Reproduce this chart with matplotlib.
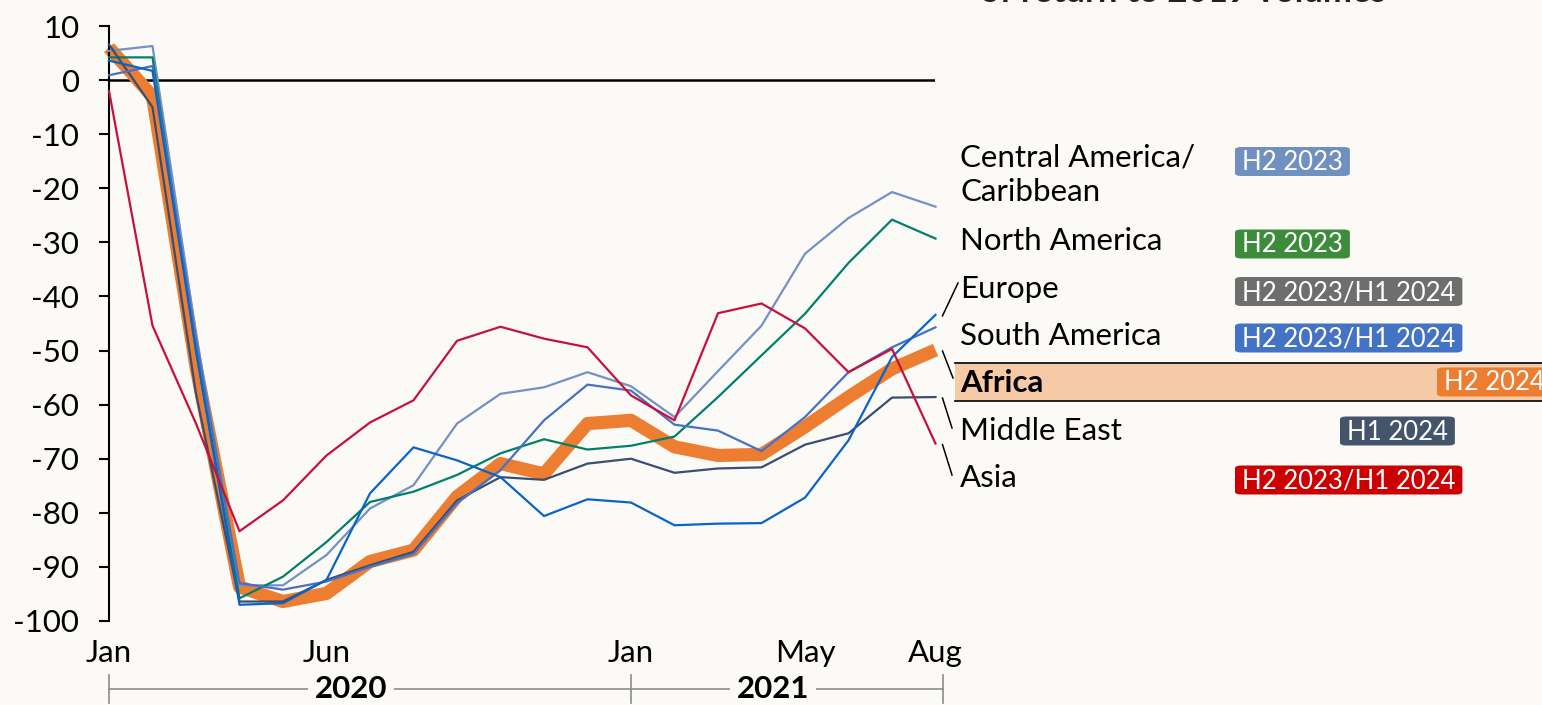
import matplotlib
matplotlib.use("Agg")
import numpy as np
import pandas as pd
import matplotlib.pyplot as plt
from matplotlib.patches import FancyBboxPatch, Rectangle
from matplotlib.lines import Line2D
import matplotlib.transforms as mtransforms

# ---------------- data ----------------
months = pd.date_range("2020-01-01", periods=20, freq="MS")
tick_idx = [0, 5, 12, 16, 19]
tick_labels = ["Jan", "Jun", "Jan", "May", "Aug"]
years = ["2020", "2021"]

central_america = [5.4, 6.3, -47, -93.4, -93.4, -87.8, -79.2, -74.9, -63.5, -58.0,
                   -56.8, -54.0, -56.6, -62.3, -53.8, -45.4, -32.1, -25.5, -20.7, -23.4]
north_america = [4.2, 4.2, -50, -95.8, -91.8, -85.4, -78.0, -76.1, -73.0, -69.0,
                 -66.4, -68.3, -67.6, -65.9, -58.6, -50.9, -43.2, -33.8, -25.8, -29.3]
europe = [3.6, 1.7, -50, -97.0, -96.7, -92.4, -76.4, -67.9, -70.3, -73.4,
          -80.6, -77.5, -78.1, -82.3, -82.0, -81.9, -77.2, -66.6, -51.2, -43.4]
south_america = [0.9, 2.6, -48, -93.0, -94.2, -92.7, -90.0, -87.6, -78.2, -72.1,
                 -62.9, -56.3, -57.4, -63.7, -64.8, -68.6, -62.3, -54.0, -49.4, -45.7]
africa = [6.0, -3.0, -53, -93.7, -96.4, -94.9, -89.0, -86.9, -77.0, -70.9,
          -72.8, -63.5, -62.9, -67.8, -69.4, -69.2, -64.1, -58.6, -53.4, -49.9]
middle_east = [6.6, -5.0, -58, -96.4, -96.4, -92.4, -89.7, -87.2, -77.7, -73.4,
               -73.9, -70.9, -70.0, -72.6, -71.8, -71.6, -67.4, -65.3, -58.7, -58.6]
asia = [-2.0, -45.4, -63.5, -83.4, -77.7, -69.4, -63.3, -59.2, -48.2, -45.6,
        -47.8, -49.4, -58.3, -62.9, -43.1, -41.3, -45.9, -54.0, -49.7, -67.2]

regions = ["Central America/\nCaribbean", "North America", "Europe", "South America",
           "Africa", "Middle East", "Asia"]
recovery = ["H2 2023", "H2 2023", "H2 2023/H1 2024", "H2 2023/H1 2024",
            "H2 2024", "H1 2024", "H2 2023/H1 2024"]

# ---------------- style ----------------
BG = "#FBFAF6"
line_colors = {
    "Central America/\nCaribbean": "#7391C4",
    "North America": "#00806B",
    "Europe": "#0A64C8",
    "South America": "#4472C4",
    "Africa": "#ED7D31",
    "Middle East": "#3B4E6E",
    "Asia": "#C8103E",
}
tag_colors = ["#7090C0", "#3C8C3C", "#6E6E6E", "#4472C4", "#ED7D31", "#44546A", "#CC0000"]

plt.rcParams["font.family"] = ["Lato", "DejaVu Sans"]

W, H = 1542, 705
fig = plt.figure(figsize=(W / 100, H / 100), dpi=100)
fig.patch.set_facecolor(BG)


def fx(x):
    return x / W


def fy(y):
    return 1 - y / H


ax = fig.add_axes([fx(109), fy(621), (935.5 - 109) / W, (621 - 26) / H])
ax.set_facecolor("none")

x = np.arange(len(months))
series = {
    "Central America/\nCaribbean": central_america,
    "North America": north_america,
    "Europe": europe,
    "South America": south_america,
    "Africa": africa,
    "Middle East": middle_east,
    "Asia": asia,
}

ax.axhline(0, color="black", lw=1.8, zorder=1)
ax.plot(x, africa, color=line_colors["Africa"], lw=9.5, zorder=2, clip_on=False,
        solid_joinstyle="round", solid_capstyle="butt")
for name in ["Central America/\nCaribbean", "North America", "Middle East",
             "South America", "Europe", "Asia"]:
    ax.plot(x, series[name], color=line_colors[name], lw=1.6, zorder=3, clip_on=False)

ax.set_xlim(0, 19)
ax.set_ylim(-100, 10)
ax.set_yticks(np.arange(-100, 11, 10))
ax.set_yticklabels([str(v) for v in range(-100, 11, 10)])
ax.set_xticks(tick_idx)
ax.set_xticklabels(tick_labels)
for s in ["top", "right", "bottom"]:
    ax.spines[s].set_visible(False)
ax.spines["left"].set_linewidth(1.5)
ax.spines["left"].set_color("black")
ax.tick_params(axis="y", direction="out", length=7.5, width=1.5, labelsize=22.5, pad=14, colors="black")
ax.tick_params(axis="x", length=0, labelsize=22.5, pad=13)

# ---------------- year bracket ----------------
blend = mtransforms.blended_transform_factory(ax.transData, fig.transFigure)
ybr = fy(689)
fig.add_artist(Line2D([0, 19.17], [ybr, ybr], transform=blend, color="#8C8C8C", lw=1.2))
for xv in [0, 12, 19.17]:
    fig.add_artist(Line2D([xv, xv], [fy(675), fy(703)], transform=blend, color="#8C8C8C", lw=1.2))
for xv, yr in zip([5.56, 15.26], years):
    fig.text(xv, ybr, yr, transform=blend, ha="center", va="center", fontsize=22.5,
             fontweight="bold", bbox=dict(facecolor=BG, edgecolor="none", pad=5))

# ---------------- partial title (cut off at top) ----------------
fig.text(fx(980), fy(1.5), "of return to 2019 volumes", ha="left", va="baseline",
         fontsize=25, fontweight="bold", color="#222222")

# ---------------- legend / labels ----------------
label_y = [175, 241, 289, 336, 383, 431, 478]
tag_left = [1235, 1235, 1235, 1235, 1437, 1340, 1235]
tag_cy = [161.5, 244, 291.5, 338, 382, 431, 480]

# Africa highlight band
fig.add_artist(Rectangle((fx(955), fy(401)), 1 - fx(955) + 0.01, (401 - 363) / H,
                         transform=fig.transFigure, facecolor="#F6C9A7", edgecolor="none", zorder=0))
for yy in [363, 401]:
    fig.add_artist(Line2D([fx(955), 1.0], [fy(yy), fy(yy)], transform=fig.transFigure,
                          color="black", lw=1.2))

fig.canvas.draw()
r = fig.canvas.get_renderer()
for i, (name, tag) in enumerate(zip(regions, recovery)):
    fig.text(fx(960), fy(label_y[i]), name, ha="left", va="center", fontsize=22.5,
             fontweight="bold" if name == "Africa" else "normal", linespacing=1.3,
             color="black", zorder=5)
    t = fig.text(0, 0, tag, ha="left", va="center", fontsize=18.5, color="white", zorder=6)
    bb = t.get_window_extent(renderer=r)
    tw = bb.width
    padx = 7
    bh = 29
    left = tag_left[i]
    box = FancyBboxPatch((fx(left), fy(tag_cy[i] + bh / 2)), (tw + 2 * padx) / W, bh / H,
                         boxstyle="round,pad=0,rounding_size=0.004", transform=fig.transFigure,
                         facecolor=tag_colors[i], edgecolor="none", zorder=5)
    fig.add_artist(box)
    t.set_position((fx(left + padx), fy(tag_cy[i] + 1)))

# connectors from line ends to labels
inv = fig.transFigure.inverted()
connect = {"Europe": (958, 283), "Africa": (953, 378), "Middle East": (952, 428), "Asia": (952, 475)}
for name, (ex, ey) in connect.items():
    dx, dy = ax.transData.transform((x[-1], series[name][-1]))
    sx, sy = dx + 7, dy - 1
    s_f = inv.transform((sx, sy))
    fig.add_artist(Line2D([s_f[0], fx(ex)], [s_f[1], fy(ey)], transform=fig.transFigure,
                          color="black", lw=1.1))

fig.savefig("out.png", dpi=100, facecolor=BG)
